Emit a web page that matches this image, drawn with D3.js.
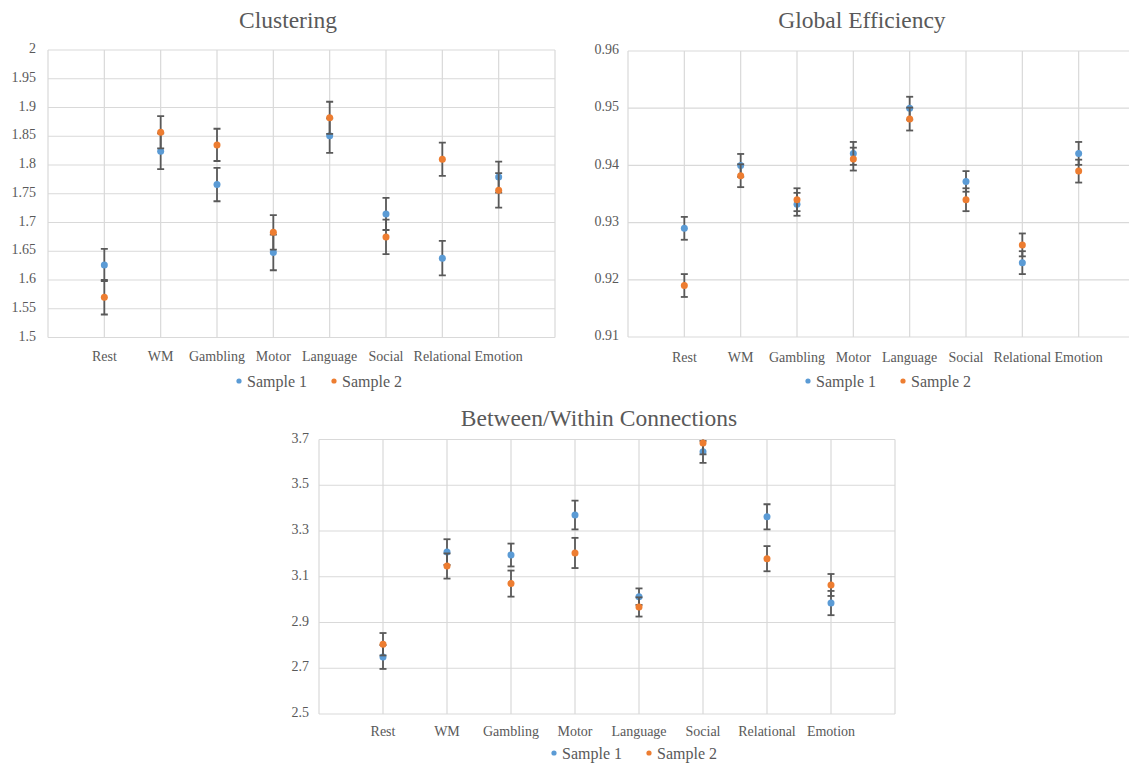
<!DOCTYPE html>
<html>
<head>
<meta charset="utf-8">
<script src="https://cdn.jsdelivr.net/npm/d3@7/dist/d3.min.js"></script>
<style>
  body { margin: 0; background: #fff; }
  svg text { font-family: "Liberation Serif", "Times New Roman", serif; fill: #595959; }
</style>
</head>
<body>
<svg width="1129" height="763"></svg>
<script>
const categories = ["Rest", "WM", "Gambling", "Motor", "Language", "Social", "Relational", "Emotion"];
const seriesNames = ["Sample 1", "Sample 2"];

const clusteringS1 = [1.626, 1.824, 1.766, 1.648, 1.851, 1.715, 1.638, 1.779];
const clusteringS1Err = [0.028, 0.031, 0.029, 0.031, 0.030, 0.028, 0.030, 0.027];
const clusteringS2 = [1.570, 1.857, 1.835, 1.683, 1.882, 1.675, 1.810, 1.756];
const clusteringS2Err = [0.030, 0.028, 0.028, 0.030, 0.028, 0.030, 0.029, 0.030];
const clusteringTicks = [1.5, 1.55, 1.6, 1.65, 1.7, 1.75, 1.8, 1.85, 1.9, 1.95, 2];

const globalS1 = [0.9290, 0.9400, 0.9332, 0.9421, 0.9500, 0.9372, 0.9230, 0.9421];
const globalS1Err = [0.002, 0.002, 0.002, 0.002, 0.002, 0.0018, 0.002, 0.002];
const globalS2 = [0.9190, 0.9382, 0.9340, 0.9411, 0.9481, 0.9340, 0.9261, 0.9390];
const globalS2Err = [0.002, 0.002, 0.002, 0.002, 0.002, 0.002, 0.002, 0.002];
const globalTicks = [0.91, 0.92, 0.93, 0.94, 0.95, 0.96];

const betweenS1 = [2.749, 3.208, 3.195, 3.370, 3.013, 3.646, 3.362, 2.985];
const betweenS1Err = [0.052, 0.056, 0.050, 0.063, 0.036, 0.048, 0.055, 0.053];
const betweenS2 = [2.805, 3.147, 3.070, 3.204, 2.968, 3.685, 3.179, 3.064];
const betweenS2Err = [0.049, 0.055, 0.057, 0.066, 0.042, 0.050, 0.055, 0.048];
const betweenTicks = [2.5, 2.7, 2.9, 3.1, 3.3, 3.5, 3.7];

const colors = ["#5b9bd5", "#ed7d31"];
const serif = '"Liberation Serif", "Times New Roman", serif';
const svg = d3.select("svg");

const panels = [
  { title: "Clustering", titleX: 288, titleY: 28,
    left: 48, right: 555, top: 50, bottom: 337.5,
    s1: clusteringS1, e1: clusteringS1Err, s2: clusteringS2, e2: clusteringS2Err,
    ticks: clusteringTicks, fmt: v => String(+v.toFixed(2)), tickGap: 12,
    catY: 361, legendX: 239, legendY: 381 },
  { title: "Global Efficiency", titleX: 862, titleY: 28,
    left: 628, right: 1135, top: 51, bottom: 337,
    s1: globalS1, e1: globalS1Err, s2: globalS2, e2: globalS2Err,
    ticks: globalTicks, fmt: v => v.toFixed(2), tickGap: 9,
    catY: 362, legendX: 808, legendY: 381 },
  { title: "Between/Within Connections", titleX: 599, titleY: 426,
    left: 319, right: 895, top: 439.5, bottom: 714,
    s1: betweenS1, e1: betweenS1Err, s2: betweenS2, e2: betweenS2Err,
    ticks: betweenTicks, fmt: v => v.toFixed(1), tickGap: 10,
    catY: 736, legendX: 554, legendY: 753 }
];

panels.forEach((p, pi) => {
  const g = svg.append("g").style("font-family", serif);
  const x = d3.scaleLinear().domain([0, categories.length + 1]).range([p.left, p.right]);
  const y = d3.scaleLinear().domain(d3.extent(p.ticks)).range([p.bottom, p.top]);

  g.append("text")
    .attr("x", p.titleX).attr("y", p.titleY)
    .attr("text-anchor", "middle")
    .style("font-size", "23.5px")
    .text(p.title);

  // grid
  g.append("g").selectAll("line")
    .data(p.ticks).enter().append("line")
    .attr("x1", p.left).attr("x2", p.right)
    .attr("y1", d => y(d)).attr("y2", d => y(d))
    .attr("stroke", "#d9d9d9").attr("stroke-width", 1.2);
  g.append("g").selectAll("line")
    .data(d3.range(0, categories.length + 2)).enter().append("line")
    .attr("x1", d => x(d)).attr("x2", d => x(d))
    .attr("y1", p.top).attr("y2", p.bottom)
    .attr("stroke", "#d9d9d9").attr("stroke-width", 1.2);

  // y tick labels
  g.append("g").selectAll("text")
    .data(p.ticks).enter().append("text")
    .attr("x", p.left - p.tickGap).attr("y", d => y(d))
    .attr("text-anchor", "end").attr("dominant-baseline", "middle")
    .style("font-size", "14px")
    .text(p.fmt);

  // category labels
  g.append("g").selectAll("text")
    .data(categories).enter().append("text")
    .attr("x", (d, i) => x(i + 1)).attr("y", p.catY)
    .attr("text-anchor", "middle")
    .style("font-size", "14px")
    .text(d => d);

  const clipId = "clip" + pi;
  g.append("clipPath").attr("id", clipId)
    .append("rect")
    .attr("x", p.left).attr("y", p.top)
    .attr("width", p.right - p.left).attr("height", p.bottom - p.top);

  const series = [[p.s1, p.e1], [p.s2, p.e2]];
  series.forEach(([vals, errs], si) => {
    const sg = g.append("g");
    const eg = sg.append("g").attr("clip-path", `url(#${clipId})`)
      .attr("stroke", "#595959").attr("stroke-width", 1.8);
    vals.forEach((v, i) => {
      const cx = x(i + 1);
      eg.append("line").attr("x1", cx).attr("x2", cx)
        .attr("y1", y(v - errs[i])).attr("y2", y(v + errs[i]));
      [v - errs[i], v + errs[i]].forEach(e => {
        eg.append("line").attr("x1", cx - 3.5).attr("x2", cx + 3.5)
          .attr("y1", y(e)).attr("y2", y(e));
      });
    });
    sg.selectAll("circle")
      .data(vals).enter().append("circle")
      .attr("cx", (d, i) => x(i + 1)).attr("cy", d => y(d))
      .attr("r", 3.5).attr("fill", colors[si]);
  });

  // legend
  const lg = g.append("g");
  seriesNames.forEach((name, si) => {
    const lx = p.legendX + si * 95;
    lg.append("circle").attr("cx", lx).attr("cy", p.legendY)
      .attr("r", 2.6).attr("fill", colors[si]);
    lg.append("text").attr("x", lx + 8).attr("y", p.legendY + 5.5)
      .style("font-size", "16px").text(name);
  });
});
</script>
</body>
</html>
